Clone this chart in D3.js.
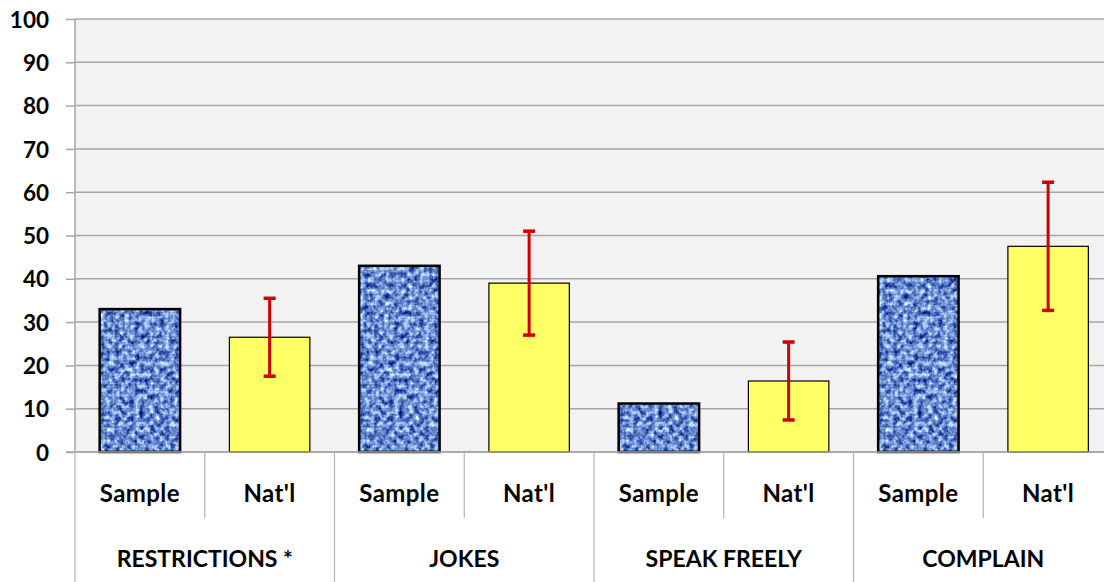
<!DOCTYPE html>
<html>
<head>
<meta charset="utf-8">
<script src="https://cdn.jsdelivr.net/npm/d3@7"></script>
<style>
body{margin:0;background:#fff;}
svg{display:block;}
.lbl{font-family:Lato,"Open Sans",sans-serif;font-weight:bold;fill:#000;}
</style>
</head>
<body>
<svg id="chart" width="1104" height="582"></svg>
<script>
var groups=["RESTRICTIONS *","JOKES","SPEAK FREELY","COMPLAIN"]
var series=["Sample","Nat'l"]
var sampleValues=[33,43,11.2,40.6]
var natlValues=[26.5,39,16.4,47.5]
var natlErrors=[9,12,9,14.8]
var yTicks=[0,10,20,30,40,50,60,70,80,90,100]

var width=1104,height=582
var plotLeft=75,plotRight=1113,plotTop=19,plotBottom=452

var svg=d3.select("#chart")

// denim texture for the sample bars
var defs=svg.append("defs")
var f=defs.append("filter")
.attr("id","denim")
.attr("x",0).attr("y",0).attr("width",1).attr("height",1)
.attr("color-interpolation-filters","sRGB")
f.append("feTurbulence")
.attr("type","fractalNoise")
.attr("baseFrequency","0.2 0.18")
.attr("numOctaves",3)
.attr("seed",11)
.attr("result","n")
f.append("feGaussianBlur")
.attr("in","n").attr("stdDeviation",0.6).attr("result","nb")
f.append("feColorMatrix")
.attr("in","nb")
.attr("type","matrix")
.attr("values","1.5 0 0 0 -0.3  1.5 0 0 0 -0.17  1.05 0 0 0 0.33  0 0 0 0 1")
.attr("result","c")
f.append("feComposite")
.attr("in","c").attr("in2","SourceGraphic").attr("operator","in")

var weave=defs.append("pattern")
.attr("id","weave")
.attr("width",6).attr("height",6)
.attr("patternUnits","userSpaceOnUse")
weave.append("rect").attr("width",6).attr("height",1.5).attr("fill","#1d3570").attr("opacity",0.2)
weave.append("rect").attr("width",1.5).attr("height",6).attr("fill","#1d3570").attr("opacity",0.14)

var yScale=d3.scaleLinear()
.domain([0,100])
.range([plotBottom,plotTop])

var xGroup=d3.scaleBand()
.domain(groups)
.range([plotLeft,plotRight])

var xSlot=d3.scaleBand()
.domain(series)
.range([0,xGroup.bandwidth()])

var xBar=d3.scaleBand()
.domain(series)
.range([0,xGroup.bandwidth()])
.paddingInner(0.38)
.paddingOuter(0.19)

// plot background
svg.append("rect")
.attr("x",plotLeft).attr("y",plotTop)
.attr("width",width-plotLeft).attr("height",plotBottom-plotTop)
.attr("fill","#f2f2f2")

// gridlines + y axis
var yAxis=d3.axisLeft(yScale)
.tickValues(yTicks)
.tickSize(9)
.tickPadding(17)

var ya=svg.append("g")
.attr("transform","translate("+plotLeft+",0)")
.call(yAxis)
ya.select(".domain").remove()
ya.selectAll(".tick line").attr("stroke","#a6a6a6").attr("stroke-width",1.5)
ya.selectAll(".tick text").attr("class","lbl").style("font-size","22.5px").attr("dy","0.36em")

svg.append("g")
.selectAll("line")
.data(yTicks)
.enter()
.append("line")
.attr("x1",plotLeft).attr("x2",width)
.attr("y1",d=>yScale(d)).attr("y2",d=>yScale(d))
.attr("stroke","#a6a6a6")
.attr("stroke-width",1.5)

svg.append("line")
.attr("x1",plotLeft).attr("x2",plotLeft)
.attr("y1",plotTop).attr("y2",plotBottom)
.attr("stroke","#a6a6a6").attr("stroke-width",1.5)

// bars
var rows=groups.map((g,i)=>({group:g,sample:sampleValues[i],natl:natlValues[i],err:natlErrors[i]}))

var gBars=svg.append("g")
.selectAll(".grp")
.data(rows)
.enter()
.append("g")
.classed("grp",true)
.attr("transform",d=>"translate("+xGroup(d.group)+",0)")

gBars.append("rect")
.attr("x",xBar("Sample"))
.attr("y",d=>yScale(d.sample))
.attr("width",xBar.bandwidth())
.attr("height",d=>plotBottom-yScale(d.sample))
.attr("fill","#6f8fcc")
.attr("filter","url(#denim)")

gBars.append("rect")
.attr("x",xBar("Sample"))
.attr("y",d=>yScale(d.sample))
.attr("width",xBar.bandwidth())
.attr("height",d=>plotBottom-yScale(d.sample))
.attr("fill","url(#weave)")
.attr("stroke","#000")
.attr("stroke-width",2.5)

gBars.append("rect")
.attr("x",xBar("Nat'l"))
.attr("y",d=>yScale(d.natl))
.attr("width",xBar.bandwidth())
.attr("height",d=>plotBottom-yScale(d.natl))
.attr("fill","#ffff66")
.attr("stroke","#000")
.attr("stroke-width",1.2)

// error bars
var cx=xBar("Nat'l")+xBar.bandwidth()/2
gBars.append("line")
.attr("x1",cx).attr("x2",cx)
.attr("y1",d=>yScale(d.natl+d.err))
.attr("y2",d=>yScale(d.natl-d.err))
.attr("stroke","#cc0000").attr("stroke-width",3)
gBars.selectAll(".cap")
.data(d=>[d.natl+d.err,d.natl-d.err])
.enter()
.append("line")
.attr("x1",cx-6).attr("x2",cx+6)
.attr("y1",d=>yScale(d)).attr("y2",d=>yScale(d))
.attr("stroke","#cc0000").attr("stroke-width",3.5)

// category axis
svg.append("line")
.attr("x1",plotLeft-9).attr("x2",width)
.attr("y1",plotBottom).attr("y2",plotBottom)
.attr("stroke","#a6a6a6").attr("stroke-width",1.5)

svg.append("g")
.selectAll("line")
.data(groups.concat(["end"]))
.enter()
.append("line")
.attr("x1",(d,i)=>plotLeft+i*xGroup.bandwidth()).attr("x2",(d,i)=>plotLeft+i*xGroup.bandwidth())
.attr("y1",plotBottom).attr("y2",height)
.attr("stroke","#b3b3b3").attr("stroke-width",1.2)

svg.append("g")
.selectAll("line")
.data(groups)
.enter()
.append("line")
.attr("x1",d=>xGroup(d)+xSlot("Nat'l")).attr("x2",d=>xGroup(d)+xSlot("Nat'l"))
.attr("y1",plotBottom).attr("y2",518)
.attr("stroke","#b3b3b3").attr("stroke-width",1.2)

var sub=svg.append("g")
groups.forEach(g=>{
	series.forEach(s=>{
		sub.append("text")
		.attr("class","lbl")
		.attr("x",xGroup(g)+xSlot(s)+xSlot.bandwidth()/2)
		.attr("y",502)
		.attr("text-anchor","middle")
		.style("font-size","24px")
		.style("letter-spacing","0.4px")
		.text(s)
	})
})

svg.append("g")
.selectAll("text")
.data(groups)
.enter()
.append("text")
.attr("class","lbl")
.attr("x",d=>xGroup(d)+xGroup.bandwidth()/2)
.attr("y",567)
.attr("text-anchor","middle")
.style("font-size","23px")
.text(d=>d)
</script>
</body>
</html>
